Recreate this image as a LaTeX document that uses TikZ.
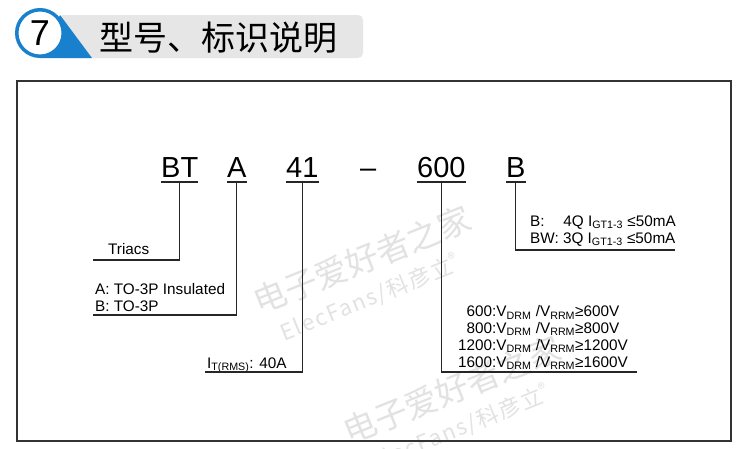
\documentclass[tikz,border=0pt]{standalone}
\usepackage{fontspec}
\setmainfont{Liberation Sans}
\newfontfamily\cjk{Noto Sans CJK SC}
\definecolor{headblue}{RGB}{24,128,204}
\definecolor{headgray}{RGB}{230,230,230}
\definecolor{wmgray}{RGB}{226,226,226}
\begin{document}
\begin{tikzpicture}[x=1pt,y=-1pt,
	code/.style={anchor=base west, inner sep=0pt, font=\fontsize{29}{29}\selectfont},
	lbl/.style={anchor=base west, inner sep=0pt, align=left, font=\fontsize{15.3}{16.8}\selectfont},
	lead/.style={line width=1.1pt, black!85},
	wm/.style={text=wmgray, rotate=22, inner sep=0pt}]
	\useasboundingbox (0,0) rectangle (750,448);
	\fill[white] (0,0) rectangle (750,448);
	% watermark
	\node[wm, font=\cjk\fontsize{33}{33}\selectfont] (wma) at (362,260) {电子爱好者之家};
	\node[wm, font=\cjk\fontsize{22}{22}\selectfont\addfontfeature{LetterSpace=8}] (wmb) at (370,298) {ElecFans/科彦立\textsuperscript{®}};
	\node[wm, font=\cjk\fontsize{33}{33}\selectfont] (wmc) at (452,390) {电子爱好者之家};
	\node[wm, font=\cjk\fontsize{22}{22}\selectfont\addfontfeature{LetterSpace=8}] (wmd) at (460,428) {ElecFans/科彦立\textsuperscript{®}};
	% header
	\fill[headgray, rounded corners=5pt] (58,15) rectangle (363,58);
	\fill[headblue] (40,58) -- (92,58) -- (60,15) -- cycle;
	\node[circle, draw=headblue, line width=3.5pt, fill=white, minimum size=46.5pt, inner sep=0pt,
		font=\fontsize{36}{36}\selectfont] (num) at (40,33) {7};
	\node[anchor=west, inner sep=0pt, font=\cjk\fontsize{34}{34}\selectfont] (title) at (99,38) {型号、标识说明};
	\draw[line width=1.6pt, black!80] (17,81) rectangle (731,441);
	% part number
	\node[code] (bt) at (161,177) {BT};
	\node[code] (a) at (227,177) {A};
	\node[code] (n41) at (286,177) {41};
	\node[code] (dash) at (360,177) {–};
	\node[code] (v600) at (417,177) {600};
	\node[code] (b) at (506,177) {B};
	\foreach \n in {bt,a,n41,v600,b}
		\draw[lead] ([yshift=-5pt]\n.base west) -- ([yshift=-5pt]\n.base east);
	% labels
	\node[lbl] (triacs) at (108,254) {Triacs};
	\node[lbl] (pkg) at (95,311) {A: TO-3P Insulated\\B: TO-3P};
	\node[lbl] (irms) at (207,368) {I\textsubscript{T(RMS)}: 40A};
	\node[lbl, anchor=base, align=center] (vdrm) at (543,367) {600:V\textsubscript{DRM} /V\textsubscript{RRM}≥600V\\
		800:V\textsubscript{DRM} /V\textsubscript{RRM}≥800V\\
		1200:V\textsubscript{DRM} /V\textsubscript{RRM}≥1200V\\
		1600:V\textsubscript{DRM} /V\textsubscript{RRM}≥1600V};
	\node[lbl] (igt) at (530,243) {\makebox[2.17em][l]{B:}4Q I\textsubscript{GT1-3} ≤50mA\\
		BW: 3Q I\textsubscript{GT1-3} ≤50mA};
	\coordinate (ltri) at (93,260);
	\coordinate (lpkg) at (93,315);
	\coordinate (lirms) at (205,372);
	\coordinate (lvdrm) at (637,372);
	\coordinate (ligt) at (675,250);
	\draw[lead] ([yshift=-5pt]bt.base) |- (ltri);
	\draw[lead] ([yshift=-5pt]a.base) |- (lpkg);
	\draw[lead] ([yshift=-5pt]n41.base) |- (lirms);
	\draw[lead] ([yshift=-5pt]v600.base) |- (lvdrm);
	\draw[lead] ([yshift=-5pt]b.base) |- (ligt);
\end{tikzpicture}
\end{document}
